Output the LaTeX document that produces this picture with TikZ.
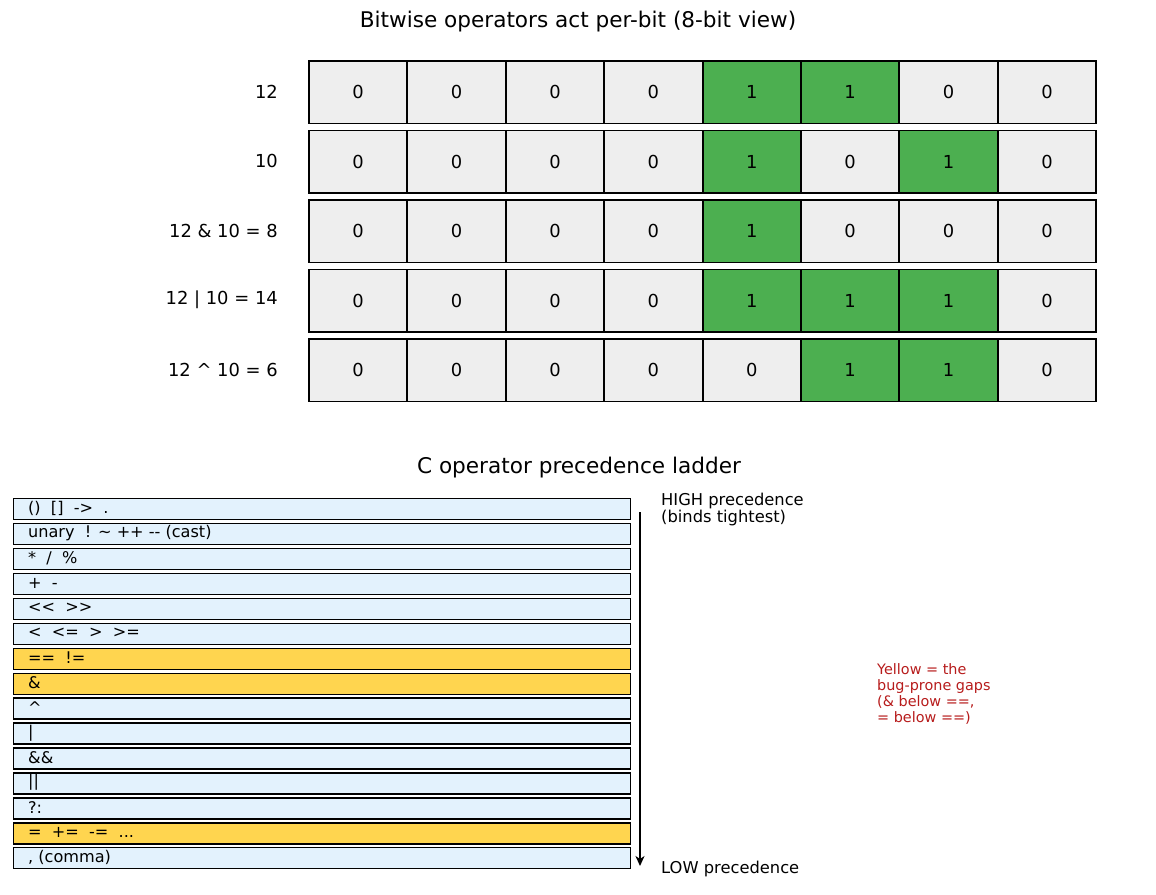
\documentclass[tikz,border=0pt]{standalone}
\usepackage{fontspec}
\setmainfont{DejaVu Sans}
\usetikzlibrary{arrows.meta}
\definecolor{cellgray}{HTML}{EEEEEE}
\definecolor{cellgreen}{HTML}{4CAF50}
\definecolor{ladblue}{HTML}{E3F2FD}
\definecolor{ladyellow}{HTML}{FFD54F}
\definecolor{notered}{HTML}{B71C1C}
\tikzset{
  bitcell/.style={draw=black, line width=1.9pt, minimum width=98.4pt, minimum height=62.5pt, inner sep=0pt, anchor=north west, font=\fontsize{17.9}{21}\selectfont},
  rowlabel/.style={anchor=east, inner sep=0pt, font=\fontsize{17.9}{21}\selectfont},
  ladbox/.style={draw=black, line width=1.4pt, minimum width=617pt, minimum height=21pt, inner sep=0pt, anchor=north west},
  ladtext/.style={anchor=west, inner sep=0pt, font=\fontsize{16.1}{18}\selectfont},
  titletext/.style={inner sep=0pt, font=\fontsize{21.6}{25}\selectfont},
  sidetext/.style={inner sep=0pt, align=left, font=\fontsize{16.3}{16.5}\selectfont},
  notetext/.style={inner sep=0pt, align=left, anchor=north west, text=notered, font=\fontsize{14.4}{16}\selectfont},
}
\begin{document}
\begin{tikzpicture}[x=1pt,y=-1pt]
\useasboundingbox (0,0) rectangle (1156,894);
\node[titletext] (t1) at (578,22) {Bitwise operators act per-bit (8-bit view)};
% bit grid
\foreach \r/\lab/\bits in {0/12/{0,0,0,0,1,1,0,0}, 1/10/{0,0,0,0,1,0,1,0}, 2/{12 \& 10 = 8}/{0,0,0,0,1,0,0,0}, 3/{12 | 10 = 14}/{0,0,0,0,1,1,1,0}, 4/{12 \textasciicircum\ 10 = 6}/{0,0,0,0,0,1,1,0}}{
  \pgfmathsetmacro{\ytop}{60+69.5*\r}
  \node[rowlabel] (lab\r) at (278,\ytop+31.5) {\lab};
  \foreach \b [count=\c from 0] in \bits {
    \pgfmathsetmacro{\xl}{308+98.4*\c}
    \ifnum\b=1 \def\fc{cellgreen}\else\def\fc{cellgray}\fi
    \node[bitcell, fill=\fc] (cell\r\c) at (\xl,\ytop) {\b};
  }
}
% ladder
\node[titletext] (t2) at (579,468) {C operator precedence ladder};
\foreach \t/\col [count=\i from 0] in {
  {()\ \ []\ \ ->\ \ .}/ladblue,
  {unary\ \ ! \textasciitilde\ ++ -{}- (cast)}/ladblue,
  {*\ \ /\ \ \%}/ladblue,
  {+\ \ -}/ladblue,
  {<{}<\ \ >{}>}/ladblue,
  {<\ \ <=\ \ >\ \ >=}/ladblue,
  {==\ \ !=}/ladyellow,
  {\&}/ladyellow,
  {\textasciicircum}/ladblue,
  {|}/ladblue,
  {\&\&}/ladblue,
  {||}/ladblue,
  {?:}/ladblue,
  {=\ \ +=\ \ -=\ \ ...}/ladyellow,
  {, (comma)}/ladblue}{
  \pgfmathsetmacro{\yt}{498+24.93*\i}
  \node[ladbox, fill=\col] (lad\i) at (13,\yt) {};
  \node[ladtext] (ladt\i) at (28,\yt+10.5) {\t};
}
\coordinate (atop) at (640,512);
\coordinate (abot) at (640,866);
\draw[line width=2pt, -{Stealth[length=10pt,width=9pt,inset=3pt]}] (atop) -- (abot);
\node[sidetext, anchor=north west] (high) at (661,493) {HIGH precedence\\(binds tightest)};
\node[sidetext, anchor=west] (low) at (661,869) {LOW precedence};
\node[notetext] (note) at (877,663) {Yellow = the\\bug-prone gaps\\(\& below ==,\\= below ==)};
\end{tikzpicture}
\end{document}
